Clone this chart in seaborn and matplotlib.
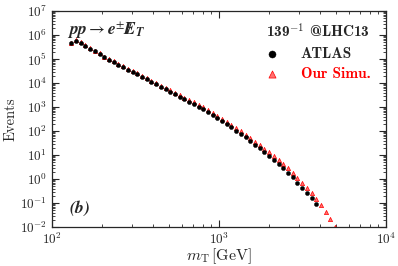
import numpy as np
import pandas as pd
import matplotlib
matplotlib.use("Agg")
import matplotlib.pyplot as plt
from matplotlib.ticker import LogLocator, NullFormatter
import seaborn as sns

# transverse mass bin centres [GeV]
mt_gev = [130.5, 139.3, 148.6, 158.6, 169.2, 180.6, 192.7, 205.6, 219.4, 234.1,
          249.8, 266.6, 284.4, 303.5, 323.9, 345.6, 368.8, 393.6, 420.0, 448.1,
          478.2, 510.3, 544.5, 581.1, 620.1, 661.7, 706.1, 753.4, 804.0, 857.9,
          915.5, 976.8, 1042, 1112, 1187, 1267, 1352, 1442, 1539, 1643,
          1753, 1870, 1995, 2129, 2272, 2425, 2587, 2761, 2946, 3144,
          3355, 3580, 3819, 4076, 4349, 4641, 4952]

# log10(events)
atlas_log10 = [5.65, 5.77, 5.66, 5.55, 5.43, 5.32, 5.20, 5.07, 4.97, 4.87,
               4.77, 4.66, 4.56, 4.46, 4.36, 4.25, 4.15, 4.05, 3.94, 3.84,
               3.74, 3.64, 3.53, 3.43, 3.33, 3.22, 3.13, 3.02, 2.90, 2.78,
               2.66, 2.53, 2.41, 2.28, 2.15, 2.01, 1.87, 1.73, 1.58, 1.43,
               1.28, 1.12, 0.96, 0.79, 0.62, 0.46, 0.27, 0.07, -0.15, -0.36,
               -0.58, -0.81, -1.05]

simu_log10 = [5.67, 5.79, 5.70, 5.58, 5.47, 5.35, 5.23, 5.10, 5.00, 4.90,
              4.80, 4.70, 4.60, 4.50, 4.40, 4.30, 4.20, 4.10, 3.99, 3.89,
              3.79, 3.69, 3.59, 3.49, 3.39, 3.29, 3.20, 3.09, 2.98, 2.86,
              2.74, 2.62, 2.50, 2.38, 2.25, 2.12, 1.98, 1.85, 1.71, 1.56,
              1.42, 1.27, 1.11, 0.95, 0.79, 0.62, 0.45, 0.26, 0.06, -0.15,
              -0.36, -0.60, -0.85, -1.07, -1.38, -1.68, -1.99]

atlas = pd.DataFrame({"mt": mt_gev[:len(atlas_log10)],
                      "events": np.power(10.0, atlas_log10)})
simu = pd.DataFrame({"mt": mt_gev[:len(simu_log10)],
                     "events": np.power(10.0, simu_log10)})

sns.set_style("ticks")
plt.rcParams["font.family"] = "serif"
plt.rcParams["font.serif"] = ["cmr10", "DejaVu Serif"]
plt.rcParams["mathtext.fontset"] = "cm"
plt.rcParams["axes.formatter.use_mathtext"] = True

fig = plt.figure(figsize=(3.98, 2.66), dpi=100)
ax = fig.add_axes([0.1307, 0.1466, 0.8393, 0.812])

sns.scatterplot(data=simu, x="mt", y="events", ax=ax, marker="^", s=9,
                facecolor="#ff7070", edgecolor="red", linewidth=0.5,
                label="Our Simu.", zorder=2)
sns.scatterplot(data=atlas, x="mt", y="events", ax=ax, marker="o", s=9,
                color="black", edgecolor="black", linewidth=0.3,
                label="ATLAS", zorder=3)

ax.set_xscale("log")
ax.set_yscale("log")
ax.set_xlim(100, 1e4)
ax.set_ylim(1e-2, 1e7)

ax.yaxis.set_major_locator(LogLocator(base=10, numticks=20))
ax.yaxis.set_minor_locator(LogLocator(base=10, subs=np.arange(2, 10), numticks=20))
ax.yaxis.set_minor_formatter(NullFormatter())
ax.xaxis.set_minor_formatter(NullFormatter())
ax.tick_params(which="both", direction="in", top=True, right=True, labelsize=9.5)
ax.tick_params(which="major", length=5, width=0.8)
ax.tick_params(which="minor", length=2.5, width=0.6)
for sp in ax.spines.values():
    sp.set_linewidth(0.9)

ax.set_xlabel(r"$m_{\rm T}\,[\mathrm{GeV}]$", fontsize=11.5, labelpad=-1)
ax.set_ylabel("Events", fontsize=10.5, labelpad=2)

ax.text(0.045, 0.96, r"$\mathbfit{pp}\rightarrow \mathbfit{e}^{\pm}\,/\!\!\!\!\mathbfit{E}_{\mathbfit{T}}$",
        transform=ax.transAxes, fontsize=12.5, va="top", ha="left",
        math_fontfamily="stix")
ax.text(0.05, 0.04, r"$\mathbfit{(b)}$", transform=ax.transAxes, fontsize=12.5,
        va="bottom", ha="left", math_fontfamily="stix")

handles, labels = ax.get_legend_handles_labels()
leg = ax.legend([handles[1], handles[0]], [labels[1], labels[0]],
                title=r"139$^{\mathbf{-1}}$ @LHC13", loc="upper right",
                bbox_to_anchor=(0.985, 0.995), frameon=False,
                prop={"family": "cmb10", "size": 11}, handletextpad=0.9,
                labelspacing=0.4, borderaxespad=0.3, markerscale=1.7)
leg.get_title().set_fontfamily("cmb10")
leg.get_title().set_fontsize(11)
leg.texts[1].set_color("red")
leg._legend_box.align = "right"

fig.savefig("out.png", dpi=100)
